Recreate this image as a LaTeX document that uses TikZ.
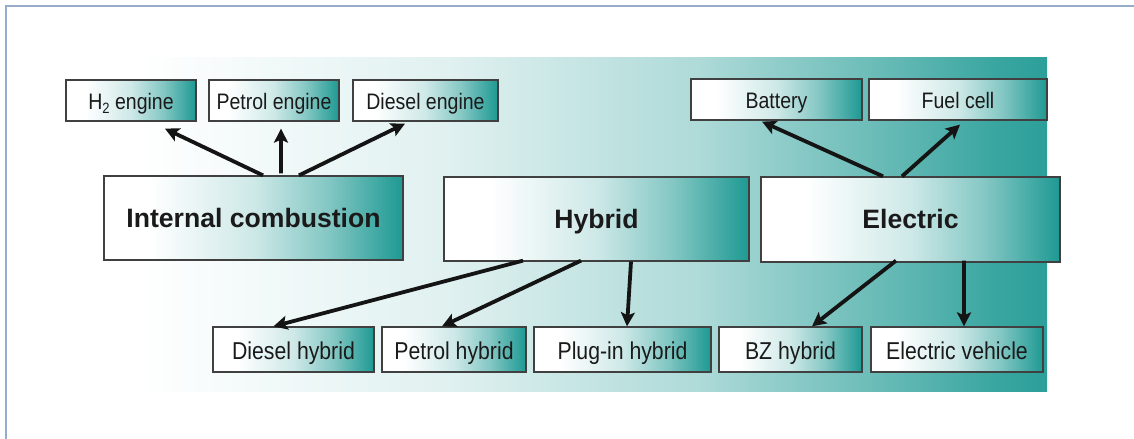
\documentclass[tikz,border=0pt]{standalone}
\usepackage{fontspec}
\setmainfont{Liberation Sans}
\newfontfamily\narrowfont[FakeStretch=0.87]{Liberation Sans}
\usetikzlibrary{arrows.meta}
\definecolor{tealc}{RGB}{30,153,147}
\definecolor{framec}{RGB}{150,172,200}
\definecolor{boxline}{RGB}{64,64,64}
\definecolor{txt}{RGB}{26,26,26}
\definecolor{arrc}{RGB}{20,20,20}
\pgfdeclarehorizontalshading{boxshade}{100bp}{color(0bp)=(white); color(25bp)=(white); color(32.5bp)=(white); color(50bp)=(tealc!22); color(62.5bp)=(tealc!55); color(75bp)=(tealc); color(100bp)=(tealc)}
\pgfdeclarehorizontalshading{bgshade}{100bp}{color(0bp)=(white); color(29bp)=(white); color(44.75bp)=(tealc!14); color(57.4bp)=(tealc!36); color(67.5bp)=(tealc!70); color(72.5bp)=(tealc!88); color(75bp)=(tealc!94); color(100bp)=(tealc!94)}
\tikzset{
  box/.style={draw=boxline, line width=1.3bp, shading=boxshade, inner sep=0pt, text=txt, align=center},
  smalltop/.style={box, minimum height=41bp, text height=18.7bp, text depth=0pt, font=\narrowfont\fontsize{22.5}{24}\selectfont},
  smallbot/.style={box, minimum height=45bp, text height=20.8bp, text depth=0pt, font=\narrowfont\fontsize{24.5}{26}\selectfont},
  bigbox/.style={box, minimum height=84bp, text height=19bp, text depth=0pt, font=\bfseries\fontsize{26.7}{28}\selectfont},
  arr/.style={draw=arrc, line width=3.8bp, -{Stealth[length=14bp,width=14bp,inset=3bp]}}
}
\begin{document}
\begin{tikzpicture}[x=1bp,y=-1bp]
\useasboundingbox (0,0) rectangle (1134,439);
\shade[shading=bgshade] (60,58) rectangle (1047,392);
\draw[framec, line width=1.5bp] (6,439) -- (6,6) -- (1134,6);
% top small boxes
\node[smalltop, minimum width=130bp] (h2) at (131,100.5) {H\raisebox{-0.3ex}{\fontsize{15}{15}\selectfont 2} engine};
\node[smalltop, minimum width=130bp] (pe) at (274,100.5) {Petrol engine};
\node[smalltop, minimum width=145bp] (de) at (425.5,100.5) {Diesel engine};
\node[smalltop, minimum width=171bp] (ba) at (776.5,99.5) {Battery};
\node[smalltop, minimum width=178bp] (fc) at (958,99.5) {Fuel cell};
% big boxes
\node[bigbox, minimum width=299bp] (ic) at (253.5,218) {Internal combustion};
\node[bigbox, minimum width=305bp] (hy) at (596.5,219) {Hybrid};
\node[bigbox, minimum width=299bp, minimum height=85bp] (el) at (910.5,219.5) {Electric};
% bottom small boxes
\node[smallbot, minimum width=161bp] (dh) at (293.5,349.5) {Diesel hybrid};
\node[smallbot, minimum width=144bp] (ph) at (454,349.5) {Petrol hybrid};
\node[smallbot, minimum width=177bp] (pl) at (622.5,349.5) {Plug-in hybrid};
\node[smallbot, minimum width=143bp] (bz) at (790.5,349.5) {BZ hybrid};
\node[smallbot, minimum width=172bp] (ev) at (957,349.5) {Electric vehicle};
% arrows
\draw[arr] ([shift={(9.5,0)}]ic.north) -- ([shift={(34,7)}]h2.south);
\draw[arr] ([shift={(27.5,-2)}]ic.north) -- ([shift={(7,7)}]pe.south);
\draw[arr] ([shift={(45.5,0)}]ic.north) -- ([shift={(-20.5,2)}]de.south);
\draw[arr] ([shift={(-73.5,-1)}]hy.south) -- ([shift={(-20,0)}]dh.north);
\draw[arr] ([shift={(-15.5,-1)}]hy.south) -- ([shift={(-12,0)}]ph.north);
\draw[arr] ([shift={(34.5,0)}]hy.south) -- ([shift={(4.5,0)}]pl.north);
\draw[arr] ([shift={(-27.5,0)}]el.north) -- ([shift={(-14.5,1)}]ba.south);
\draw[arr] ([shift={(-8.5,0)}]el.north) -- ([shift={(2,4)}]fc.south);
\draw[arr] ([shift={(-14.5,-2)}]el.south) -- ([shift={(21.5,0)}]bz.north);
\draw[arr] ([shift={(53.5,-2)}]el.south) -- ([shift={(7,0)}]ev.north);
\end{tikzpicture}
\end{document}
